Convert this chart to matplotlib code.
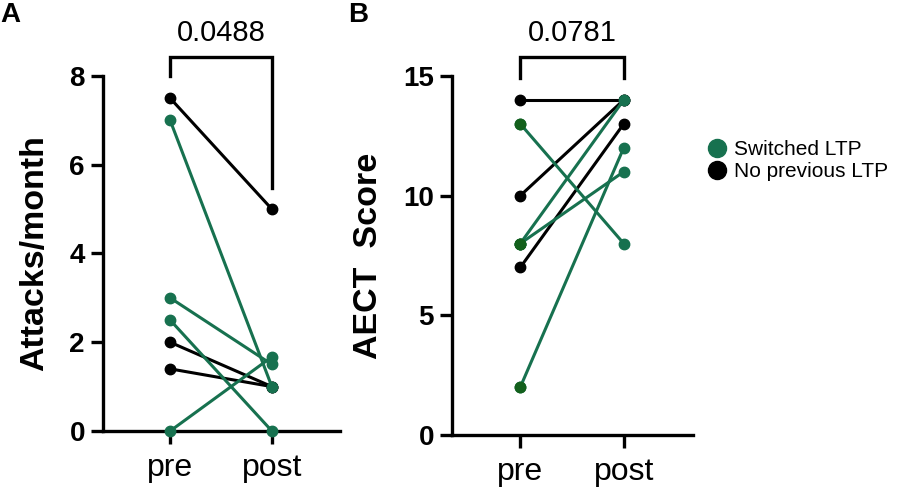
import matplotlib
matplotlib.use("Agg")
import matplotlib.pyplot as plt

plt.rcParams["font.family"] = ["Liberation Sans", "DejaVu Sans"]

# panel A: attacks per month
attacks_switched_pre = [7.0, 3.0, 2.5, 0.0]
attacks_switched_post = [1.0, 1.5, 0.0, 1.67]
attacks_none_pre = [7.5, 2.0, 1.4]
attacks_none_post = [5.0, 1.0, 1.0]

# panel B: AECT score
aect_switched_pre = [13, 8, 8, 2]
aect_switched_post = [8, 14, 11, 12]
aect_none_pre = [14, 10, 7]
aect_none_post = [14, 14, 13]

groups = ["pre", "post"]
p_values = ["0.0488", "0.0781"]
legend_labels = ["Switched LTP", "No previous LTP"]

green = "#17714f"
green_dark = "#13601c"
black = "#000000"

fig = plt.figure(figsize=(8.99, 4.95), dpi=100)
ax_a = fig.add_axes([0.1146, 0.1293, 0.2636, 0.7172])
ax_b = fig.add_axes([0.5028, 0.1212, 0.2681, 0.7253])


def draw_pairs(ax, pre, post, color, pre_color=None):
    for a, b in zip(pre, post):
        ax.plot([0, 1], [a, b], color=color, lw=2.2, marker="o", ms=7.5,
                mfc=color, mec=color, clip_on=False, zorder=3)
        if pre_color:
            ax.plot([0], [a], marker="o", ms=7.5, color=pre_color,
                    clip_on=False, zorder=4)


def style(ax, ymax, yticks, ylabel):
    ax.set_xlim(-0.66, 1.67)
    ax.set_ylim(0, ymax)
    ax.set_xticks([0, 1])
    ax.set_xticklabels(groups, fontsize=23)
    ax.set_yticks(yticks)
    ax.set_yticklabels([str(t) for t in yticks], fontsize=20, fontweight="bold")
    ax.set_ylabel(ylabel, fontsize=24.5, fontweight="bold", labelpad=14)
    for s in ["top", "right"]:
        ax.spines[s].set_visible(False)
    for s in ["left", "bottom"]:
        ax.spines[s].set_linewidth(2.4)
    ax.tick_params(axis="both", width=2.4, length=9, pad=4)
    ax.tick_params(axis="x", pad=7)


def bracket(ax, left_bottom, right_bottom, top, text):
    ax.plot([0, 0, 1, 1], [left_bottom, top, top, right_bottom], color=black,
            lw=2.4, clip_on=False, solid_joinstyle="miter")
    ax.annotate(text, xy=(0.5, top), xytext=(0, 7), textcoords="offset points",
                ha="center", va="bottom", fontsize=21, annotation_clip=False)


draw_pairs(ax_a, attacks_none_pre, attacks_none_post, black)
draw_pairs(ax_a, attacks_switched_pre, attacks_switched_post, green)
style(ax_a, 8, [0, 2, 4, 6, 8], "Attacks/month")
bracket(ax_a, 8.0, 5.47, 8.43, p_values[0])

draw_pairs(ax_b, aect_none_pre, aect_none_post, black)
draw_pairs(ax_b, aect_switched_pre, aect_switched_post, green, green_dark)
style(ax_b, 15, [0, 5, 10, 15], "AECT  Score")
bracket(ax_b, 14.92, 14.92, 15.8, p_values[1])

fig.text(0.0, 0.995, "A", fontsize=20, fontweight="bold", va="top", ha="left")
fig.text(0.387, 0.995, "B", fontsize=20, fontweight="bold", va="top", ha="left")

handles = [plt.Line2D([], [], ls="", marker="o", ms=13, color=c) for c in (green, black)]
fig.legend(handles, legend_labels, loc="upper left", bbox_to_anchor=(0.765, 0.755),
           frameon=False, fontsize=15, handletextpad=0.3, labelspacing=0.15,
           handlelength=1.0)

fig.savefig("out.png", dpi=100)
